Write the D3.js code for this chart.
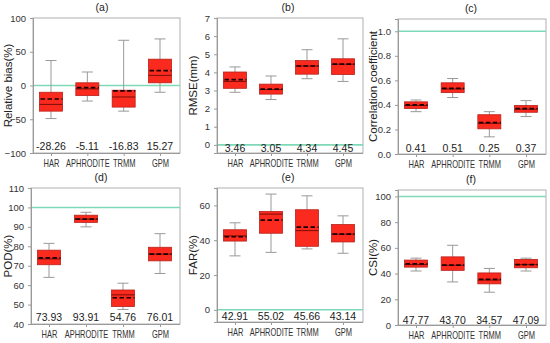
<!DOCTYPE html>
<html>
<head>
<meta charset="utf-8">
<script src="https://cdn.jsdelivr.net/npm/d3@7"></script>
<style>
  html, body { margin: 0; padding: 0; background: #ffffff; }
  svg { display: block; font-family: "Liberation Sans", Arial, sans-serif; }
</style>
</head>
<body>
<svg id="chart" width="550" height="343"></svg>
<script>
// ---------------- data ----------------
const categories = ["HAR", "APHRODITE", "TRMM", "GPM"];

// (a) Relative bias (%)
const biasMin    = [-49, -23, -38, -10];
const biasQ1     = [-38, -15, -32, 4];
const biasMedian = [-28, -5, -17, 15];
const biasMean   = [-20, -3, -8, 22];
const biasQ3     = [-10, 4, -7, 39];
const biasMax    = [37, 20, 67, 69];
const biasLabels = ["-28.26", "-5.11", "-16.83", "15.27"];
const biasTicks  = [-100, -50, 0, 50, 100];

// (b) RMSE (mm)
const rmseMin    = [2.9, 2.5, 3.65, 3.5];
const rmseQ1     = [3.12, 2.8, 3.9, 3.88];
const rmseMedian = [3.5, 3.05, 4.35, 4.45];
const rmseMean   = [3.6, 3.08, 4.35, 4.45];
const rmseQ3     = [4.02, 3.35, 4.65, 4.75];
const rmseMax    = [4.3, 3.8, 5.25, 5.85];
const rmseLabels = ["3.46", "3.05", "4.34", "4.45"];
const rmseTicks  = [0, 1, 2, 3, 4, 5, 6, 7];

// (c) Correlation coefficient
const corrMin    = [0.345, 0.46, 0.14, 0.305];
const corrQ1     = [0.37, 0.50, 0.205, 0.34];
const corrMedian = [0.395, 0.53, 0.25, 0.365];
const corrMean   = [0.40, 0.535, 0.255, 0.37];
const corrQ3     = [0.425, 0.58, 0.32, 0.395];
const corrMax    = [0.44, 0.615, 0.345, 0.435];
const corrLabels = ["0.41", "0.51", "0.25", "0.37"];
const corrTicks  = [0.0, 0.2, 0.4, 0.6, 0.8, 1.0];

// (d) POD (%)
const podMin    = [64, 90, 47.5, 66];
const podQ1     = [70.5, 92.3, 49, 72.5];
const podMedian = [73.5, 94, 55, 76];
const podMean   = [74, 94, 53.5, 76];
const podQ3     = [78, 96, 57.5, 79.5];
const podMax    = [81.5, 97.5, 61, 86.5];
const podLabels = ["73.93", "93.91", "54.76", "76.01"];
const podTicks  = [40, 50, 60, 70, 80, 90, 100, 110];

// (e) FAR (%)
const farMin    = [31, 33, 35, 32.5];
const farQ1     = [39.5, 44, 36.5, 39];
const farMedian = [42.5, 55, 45.5, 43.5];
const farMean   = [42, 51.5, 47.5, 43.5];
const farQ3     = [46, 56.5, 57.5, 49];
const farMax    = [50, 66.5, 65.5, 54];
const farLabels = ["42.91", "55.02", "45.66", "43.14"];
const farTicks  = [0, 20, 40, 60];

// (f) CSI (%)
const csiMin    = [42, 33.5, 25.5, 42];
const csiQ1     = [45, 42.5, 32, 44.5];
const csiMedian = [47, 46.5, 35, 47];
const csiMean   = [47.5, 46.5, 35.5, 47];
const csiQ3     = [50.5, 53, 40.5, 51];
const csiMax    = [52, 62, 44, 52];
const csiLabels = ["47.77", "43.70", "34.57", "47.09"];
const csiTicks  = [0, 20, 40, 60, 80, 100];

// ---------------- panels ----------------
function stats(min, q1, med, mean, q3, max) {
  return categories.map((c, i) => ({ cat: c, min: min[i], q1: q1[i], med: med[i], mean: mean[i], q3: q3[i], max: max[i] }));
}

const panels = [
  { letter: "(a)", title: "Relative bias(%)", data: stats(biasMin, biasQ1, biasMedian, biasMean, biasQ3, biasMax),
    labels: biasLabels, ticks: biasTicks, fmt: d3.format("d"), domain: [-100, 100], ref: 0,
    x0: 33, x1: 180, y0: 18, y1: 153, titleX: 102, labelDy: -3, ytx: 8 },
  { letter: "(b)", title: "RMSE(mm)", data: stats(rmseMin, rmseQ1, rmseMedian, rmseMean, rmseQ3, rmseMax),
    labels: rmseLabels, ticks: rmseTicks, fmt: d3.format("d"), domain: [-0.45, 7], ref: 0,
    x0: 217, x1: 363, y0: 18, y1: 153, titleX: 288, labelDy: -1, ytx: 193 },
  { letter: "(c)", title: "Correlation coefficient", data: stats(corrMin, corrQ1, corrMedian, corrMean, corrQ3, corrMax),
    labels: corrLabels, ticks: corrTicks, fmt: d3.format(".1f"), domain: [0, 1.1], ref: 1,
    x0: 398, x1: 546, y0: 19, y1: 154, titleX: 471, labelDy: -2, ytx: 373 },
  { letter: "(d)", title: "POD(%)", data: stats(podMin, podQ1, podMedian, podMean, podQ3, podMax),
    labels: podLabels, ticks: podTicks, fmt: d3.format("d"), domain: [40, 110], ref: 100,
    x0: 31, x1: 180, y0: 188, y1: 324, titleX: 101, labelDy: -3.5, ytx: 8 },
  { letter: "(e)", title: "FAR(%)", data: stats(farMin, farQ1, farMedian, farMean, farQ3, farMax),
    labels: farLabels, ticks: farTicks, fmt: d3.format("d"), domain: [-7, 70], ref: 0,
    x0: 217, x1: 363, y0: 188, y1: 322, titleX: 288, labelDy: -2, ytx: 193 },
  { letter: "(f)", title: "CSI(%)", data: stats(csiMin, csiQ1, csiMedian, csiMean, csiQ3, csiMax),
    labels: csiLabels, ticks: csiTicks, fmt: d3.format("d"), domain: [0, 105], ref: 100,
    x0: 398, x1: 546, y0: 190, y1: 325, titleX: 471, labelDy: -1, ytx: 373 }
];

const svg = d3.select("#chart");
const BOX_FILL = "#fb2a1f";
const BOX_STROKE = "#b8201a";
const REF_COLOR = "#7fd9b8";
const FRAME = "#9a9a9a";
const TEXT = "#333333";

panels.forEach(p => {
  const g = svg.append("g");
  const x = d3.scalePoint().domain(categories).range([p.x0 + 18, p.x1 - 20]);
  const y = d3.scaleLinear().domain(p.domain).range([p.y1, p.y0]);
  const boxW = 23, capW = 11;

  // frame
  g.append("rect").attr("x", p.x0).attr("y", p.y0)
    .attr("width", p.x1 - p.x0).attr("height", p.y1 - p.y0)
    .attr("fill", "none").attr("stroke", "#b0b0b0").attr("stroke-width", 1);

  // reference line
  g.append("line").attr("x1", p.x0).attr("x2", p.x1)
    .attr("y1", y(p.ref)).attr("y2", y(p.ref))
    .attr("stroke", REF_COLOR).attr("stroke-width", 1.6);

  // y axis
  const ya = g.append("g").attr("transform", `translate(${p.x0},0)`)
    .call(d3.axisLeft(y).tickValues(p.ticks).tickFormat(p.fmt).tickSize(3).tickPadding(4));
  ya.select(".domain").attr("stroke", FRAME);
  ya.selectAll(".tick line").attr("stroke", FRAME);
  ya.selectAll(".tick text").attr("fill", TEXT).style("font-size", "9.5px")
    .style("font-family", "'Liberation Sans', Arial, sans-serif");

  // x axis
  const xa = g.append("g").attr("transform", `translate(0,${p.y1})`)
    .call(d3.axisBottom(x).tickSize(3).tickPadding(4).tickSizeOuter(0));
  xa.select(".domain").attr("d", `M${p.x0},0.5H${p.x1}`).attr("stroke", FRAME);
  xa.selectAll(".tick line").attr("stroke", FRAME);
  xa.selectAll(".tick text").attr("fill", TEXT).style("font-size", "10px")
    .attr("transform", "scale(0.75,1)")
    .style("font-family", "'Liberation Sans', Arial, sans-serif");

  // boxes
  const bx = g.selectAll(".bx").data(p.data).enter().append("g");
  bx.append("line").attr("x1", d => x(d.cat)).attr("x2", d => x(d.cat))
    .attr("y1", d => y(d.max)).attr("y2", d => y(d.q3)).attr("stroke", "#999").attr("stroke-width", 1);
  bx.append("line").attr("x1", d => x(d.cat)).attr("x2", d => x(d.cat))
    .attr("y1", d => y(d.q1)).attr("y2", d => y(d.min)).attr("stroke", "#999").attr("stroke-width", 1);
  bx.append("line").attr("x1", d => x(d.cat) - capW / 2).attr("x2", d => x(d.cat) + capW / 2)
    .attr("y1", d => y(d.max)).attr("y2", d => y(d.max)).attr("stroke", "#999").attr("stroke-width", 1);
  bx.append("line").attr("x1", d => x(d.cat) - capW / 2).attr("x2", d => x(d.cat) + capW / 2)
    .attr("y1", d => y(d.min)).attr("y2", d => y(d.min)).attr("stroke", "#999").attr("stroke-width", 1);
  bx.append("rect").attr("x", d => x(d.cat) - boxW / 2).attr("width", boxW)
    .attr("y", d => y(d.q3)).attr("height", d => y(d.q1) - y(d.q3))
    .attr("fill", BOX_FILL).attr("stroke", BOX_STROKE).attr("stroke-width", 0.8);
  bx.append("line").attr("x1", d => x(d.cat) - boxW / 2).attr("x2", d => x(d.cat) + boxW / 2)
    .attr("y1", d => y(d.med)).attr("y2", d => y(d.med)).attr("stroke", "#6a0a06").attr("stroke-width", 0.9);
  bx.append("line").attr("x1", d => x(d.cat) - boxW / 2 + 1).attr("x2", d => x(d.cat) + boxW / 2)
    .attr("y1", d => y(d.mean)).attr("y2", d => y(d.mean)).attr("stroke", "#1a0000")
    .attr("stroke-width", 1.7).attr("stroke-dasharray", "4.5,2.5");

  // value labels
  g.selectAll(".vl").data(p.labels).enter().append("text")
    .attr("x", (d, i) => x(categories[i])).attr("y", p.y1 + p.labelDy)
    .attr("text-anchor", "middle").attr("fill", "#222").style("font-size", "10.5px")
    .text(d => d);

  // letter title
  g.append("text").attr("x", p.titleX).attr("y", p.y0 - 7)
    .attr("text-anchor", "middle").attr("fill", "#222").style("font-size", "10.5px").text(p.letter);

  // axis title
  g.append("text")
    .attr("transform", `translate(${p.ytx},${(p.y0 + p.y1) / 2}) rotate(-90)`)
    .attr("text-anchor", "middle").attr("dy", "0.35em").attr("fill", "#222")
    .style("font-size", "11.5px").text(p.title);
});
</script>
</body>
</html>
